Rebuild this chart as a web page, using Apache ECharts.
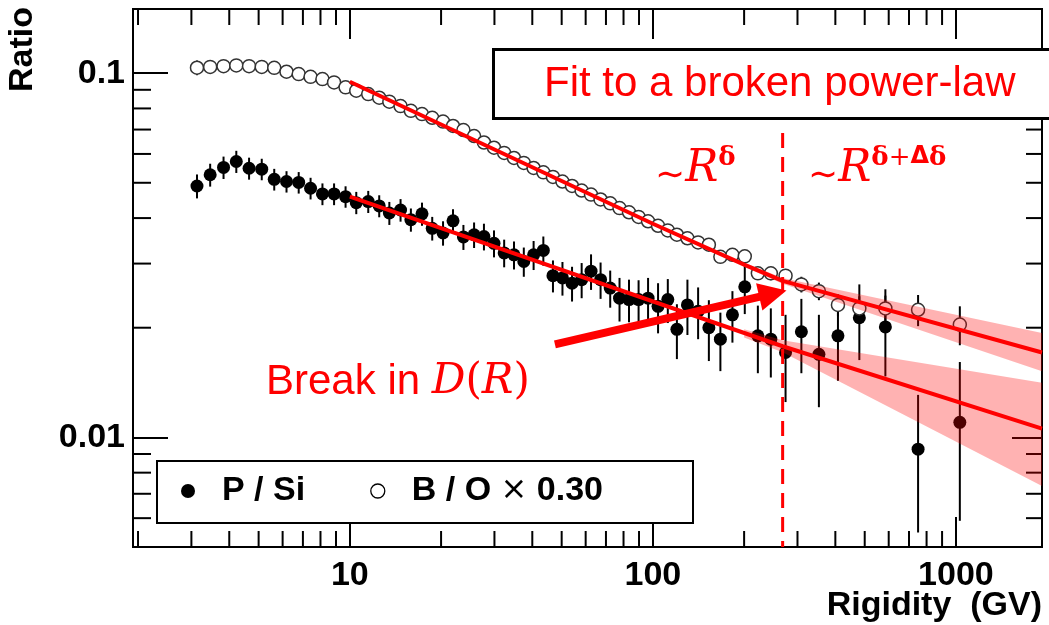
<!DOCTYPE html>
<html>
<head>
<meta charset="utf-8">
<title>P/Si and B/O rigidity dependence</title>
<script src="https://cdn.jsdelivr.net/npm/echarts@6/dist/echarts.min.js"></script>
<style>
  html, body { margin: 0; padding: 0; background: #fff; }
  #chart { width: 1049px; height: 625px; }
</style>
</head>
<body>
<div id="chart"></div>
<script>
// Rigidity bin centres (GV)
const rigidity = [3.13, 3.46, 3.83, 4.22, 4.65, 5.12, 5.63, 6.18, 6.78, 7.42, 8.12, 8.87, 9.68,
  10.5, 11.5, 12.5, 13.5, 14.7, 15.9, 17.3, 18.7, 20.3, 21.9, 23.7, 25.7, 27.7, 29.9, 32.3, 34.8,
  37.5, 40.4, 43.5, 46.8, 50.3, 54.1, 58.2, 62.5, 67.2, 72.3, 77.6, 83.4, 89.7, 96.4, 104, 112,
  120, 130, 141, 153, 167, 183, 201, 222, 245, 274, 309, 353, 408, 480, 585, 750, 1030];

// P/Si flux ratio and its uncertainty
const pSi = [0.0490, 0.0526, 0.0551, 0.0572, 0.0548, 0.0545, 0.0511, 0.0504, 0.0501, 0.0483,
  0.0466, 0.0466, 0.0458, 0.0441, 0.0444, 0.0432, 0.0413, 0.0421, 0.0396, 0.0411, 0.0375, 0.0364,
  0.0393, 0.0355, 0.0360, 0.0356, 0.0341, 0.0321, 0.0317, 0.0304, 0.0317, 0.0326, 0.0278, 0.0274,
  0.0265, 0.0271, 0.0286, 0.0271, 0.0257, 0.0241, 0.0239, 0.0239, 0.0241, 0.0229, 0.0239, 0.0198,
  0.0231, 0.0222, 0.0200, 0.0186, 0.0217, 0.0259, 0.0190, 0.0186, 0.0171, 0.0195, 0.0169, 0.0190,
  0.0213, 0.0201, 0.00928, 0.0110];
const pSiErr = [0.0037, 0.0038, 0.0039, 0.0040, 0.0038, 0.0037, 0.0035, 0.0034, 0.0034, 0.0033,
  0.0032, 0.0032, 0.0031, 0.0031, 0.0031, 0.0030, 0.0030, 0.0030, 0.0029, 0.0030, 0.0028, 0.0028,
  0.0030, 0.0028, 0.0029, 0.0030, 0.0029, 0.0028, 0.0028, 0.0028, 0.0029, 0.0030, 0.0028, 0.0029,
  0.0029, 0.0030, 0.0032, 0.0031, 0.0030, 0.0033, 0.0032, 0.0031, 0.0033, 0.0036, 0.0033, 0.0034,
  0.0040, 0.0036, 0.0038, 0.0034, 0.0035, 0.0041, 0.0040, 0.0040, 0.0046, 0.0045, 0.0048, 0.0047,
  0.0050, 0.0054, 0.0038, 0.0051];

// B/O flux ratio (scaled by 0.30) and its uncertainty
const bO = [0.1035, 0.1040, 0.1045, 0.1050, 0.1045, 0.1040, 0.1034, 0.1009, 0.0994, 0.0977,
  0.0963, 0.0943, 0.0914, 0.0895, 0.0876, 0.0856, 0.0835, 0.0812, 0.0788, 0.0772, 0.0754, 0.0736,
  0.0716, 0.0698, 0.0672, 0.0645, 0.0624, 0.0604, 0.0585, 0.0567, 0.0549, 0.0534, 0.0519, 0.0504,
  0.0490, 0.0476, 0.0464, 0.0450, 0.0439, 0.0426, 0.0415, 0.0403, 0.0392, 0.0381, 0.0370, 0.0360,
  0.0352, 0.0343, 0.0338, 0.0313, 0.0317, 0.0314, 0.0282, 0.0282, 0.0278, 0.0263, 0.0252, 0.0231,
  0.0226, 0.0226, 0.0224, 0.0204];
const bOErr = [0.0048, 0.0045, 0.0040, 0.0030, 0.0028, 0.0026, 0.0024, 0.0022, 0.0020, 0.0018,
  0.0016, 0.0015, 0.0014, 0.0013, 0.0012, 0.0012, 0.0011, 0.0011, 0.0010, 0.0010, 0.0010, 0.0009,
  0.0009, 0.0009, 0.0009, 0.0008, 0.0008, 0.0008, 0.0008, 0.0008, 0.0008, 0.0008, 0.0008, 0.0008,
  0.0008, 0.0008, 0.0008, 0.0008, 0.0008, 0.0008, 0.0008, 0.0008, 0.0008, 0.0008, 0.0008, 0.0008,
  0.0009, 0.0009, 0.0009, 0.0010, 0.0010, 0.0011, 0.0011, 0.0012, 0.0012, 0.0013, 0.0014, 0.0016,
  0.0018, 0.0019, 0.0022, 0.0025];

// Broken power-law fits
const fitBOR = [10, 100, 200, 268, 1923];
const fitBOV = [0.0947, 0.0386, 0.0298, 0.0269, 0.0171];
const fitPSiR = [10, 268, 1923];
const fitPSiV = [0.0458, 0.01779, 0.01057];

// Fit uncertainty bands
const bandR = [200, 268, 1923];
const bandBOLow = [0.0294, 0.0264, 0.0152];
const bandBOHigh = [0.0302, 0.0274, 0.01935];
const bandPSiLow = [0.0188, 0.01712, 0.00735];
const bandPSiHigh = [0.0198, 0.01848, 0.01413];

// Break rigidity marker and annotation arrow
const breakR = [268];
const breakSpan = [0.0685, 0.005];
const arrowFrom = [47.5, 0.0180];
const arrowTo = [276, 0.0253];

// Axis ranges and minor tick positions
const xRange = [1.925, 1923];
const yRange = [0.005, 0.15];
const xMinorTicks = [2, 3, 4, 5, 6, 7, 8, 9, 20, 30, 40, 50, 60, 70, 80, 90, 200, 300, 400, 500, 600, 700, 800, 900];
const yMinorTicks = [0.006, 0.007, 0.008, 0.009, 0.02, 0.03, 0.04, 0.05, 0.06, 0.07, 0.08, 0.09];

const RED = '#ff0000';
const BOLD = 'Liberation Sans';
const fmt = v => String(+(+v).toPrecision(6));

const chart = echarts.init(document.getElementById('chart'), null, { renderer: 'canvas' });

function errorBars(name, values, errs) {
  return {
    type: 'custom', name, z: 2, silent: true, clip: true,
    data: rigidity.map((r, i) => [r, values[i] - errs[i], values[i] + errs[i]]),
    encode: { x: 0, y: [1, 2] },
    renderItem(params, api) {
      const lo = api.coord([api.value(0), api.value(1)]);
      const hi = api.coord([api.value(0), api.value(2)]);
      return { type: 'line', shape: { x1: lo[0], y1: lo[1], x2: hi[0], y2: hi[1] },
        style: { stroke: '#000', lineWidth: 2 } };
    }
  };
}

function band(name, low, high) {
  return {
    type: 'custom', name, z: 4, silent: true,
    data: [[bandR[0], low[0]]],
    encode: { x: 0, y: 1 },
    renderItem(params, api) {
      const pts = [];
      for (let i = 0; i < bandR.length; i++) pts.push(api.coord([bandR[i], high[i]]));
      for (let i = bandR.length - 1; i >= 0; i--) pts.push(api.coord([bandR[i], low[i]]));
      return { type: 'polygon', shape: { points: pts }, style: { fill: 'rgba(255,0,0,0.3)' } };
    }
  };
}

function fitLine(name, rs, vs) {
  return {
    type: 'line', name, z: 5, silent: true, showSymbol: false, symbol: 'none',
    data: rs.map((r, i) => [r, vs[i]]),
    lineStyle: { color: RED, width: 4 }
  };
}

// rich-text styles shared by the two power-law annotations
const powerRich = {
  t: { fontFamily: 'DejaVu Sans', fontSize: 36, fill: RED, lineHeight: 44, verticalAlign: 'bottom' },
  r: { fontFamily: 'DejaVu Serif', fontStyle: 'italic', fontSize: 44, fill: RED, lineHeight: 50 },
  s: { fontFamily: 'DejaVu Serif', fontWeight: 'bold', fontSize: 26, fill: RED, lineHeight: 28, verticalAlign: 'top' },
  p: { fontFamily: 'DejaVu Serif', fontSize: 26, fill: RED, lineHeight: 28, verticalAlign: 'top' },
  d: { fontFamily: 'DejaVu Sans', fontWeight: 'bold', fontSize: 24, fill: RED, lineHeight: 28, verticalAlign: 'top' }
};

const option = {
  animation: false,
  backgroundColor: '#fff',
  title: {
    text: 'Fit to a broken power-law',
    left: 493, top: 49,
    padding: [12, 80, 12, 51],
    borderColor: '#000', borderWidth: 3, backgroundColor: '#fff',
    textStyle: { color: RED, fontSize: 42, fontWeight: 'normal', fontFamily: 'Liberation Sans', lineHeight: 46 },
    z: 10
  },
  grid: { left: 133, right: 7, top: 9, bottom: 78, show: true, borderColor: '#000', borderWidth: 2,
    containLabel: false, outerBoundsMode: 'none' },
  xAxis: [{
    type: 'log', logBase: 10, min: xRange[0], max: xRange[1],
    axisLine: { show: true, lineStyle: { color: '#000', width: 2 } },
    axisTick: { show: true, inside: true, length: 30, lineStyle: { color: '#000', width: 2 } },
    axisLabel: { show: true, margin: 12, formatter: fmt, showMinLabel: false, showMaxLabel: false,
      fontSize: 34, fontWeight: 'bold', fontFamily: BOLD, color: '#000' },
    splitLine: { show: false }, minorTick: { show: false }
  }, {
    type: 'log', logBase: 10, min: xRange[0], max: xRange[1], position: 'top',
    axisLine: { show: true, lineStyle: { color: '#000', width: 2 } },
    axisTick: { show: true, inside: true, length: 30, lineStyle: { color: '#000', width: 2 } },
    axisLabel: { show: false }, splitLine: { show: false }
  }],
  yAxis: [{
    type: 'log', logBase: 10, min: yRange[0], max: yRange[1],
    name: 'Ratio', nameLocation: 'end', nameGap: 2, nameRotate: 90,
    nameTextStyle: { align: 'right', verticalAlign: 'bottom', padding: [0, 0, 93, 0],
      fontSize: 34, fontWeight: 'bold', fontFamily: BOLD, color: '#000' },
    axisLine: { show: true, lineStyle: { color: '#000', width: 2 } },
    axisTick: { show: true, inside: true, length: 35, lineStyle: { color: '#000', width: 2 } },
    axisLabel: { show: true, margin: 8, formatter: fmt, showMinLabel: false, showMaxLabel: false,
      fontSize: 34, fontWeight: 'bold', fontFamily: BOLD, color: '#000' },
    splitLine: { show: false }
  }, {
    type: 'log', logBase: 10, min: yRange[0], max: yRange[1], position: 'right',
    axisLine: { show: true, lineStyle: { color: '#000', width: 2 } },
    axisTick: { show: true, inside: true, length: 30, lineStyle: { color: '#000', width: 2 } },
    axisLabel: { show: false }, splitLine: { show: false }
  }],
  legend: {
    left: 156, top: 460, orient: 'horizontal',
    padding: [14, 0, 14, 25],
    itemWidth: 14, itemHeight: 14, itemGap: 65,
    selectedMode: false, z: 12,
    data: [
      { name: 'P / Si', icon: 'circle', itemStyle: { color: '#000', borderWidth: 0, opacity: 1 } },
      { name: 'B / O × 0.30', icon: 'circle', itemStyle: { color: '#fff', borderColor: '#000', borderWidth: 1.3, opacity: 1 } }
    ],
    formatter: name => name === 'P / Si' ? '{b|P / Si}' : '{b|B / O }{x|×}{b| 0.30}',
    textStyle: {
      padding: [0, 0, 0, 22],
      rich: {
        b: { fontSize: 34, fontWeight: 'bold', fontFamily: BOLD, color: '#000', lineHeight: 34 },
        x: { fontSize: 32, fontWeight: 'normal', fontFamily: 'DejaVu Sans', color: '#000', lineHeight: 34 }
      }
    }
  },
  graphic: [
    { type: 'rect', z: 11, left: 156, top: 460, shape: { width: 536, height: 62 },
      style: { fill: '#fff', stroke: '#000', lineWidth: 2 } },
    // x axis title
    { type: 'text', z: 20, x: 1042, y: 606,
      style: { text: 'Rigidity  (GV)', fill: '#000', align: 'right', verticalAlign: 'middle',
        font: 'bold 34px "Liberation Sans"' } },
    { type: 'text', z: 20, x: 655, y: 145,
      style: { text: '{t|∼}{r|R}{s|δ}', fill: RED, rich: powerRich } },
    { type: 'text', z: 20, x: 808, y: 145,
      style: { text: '{t|∼}{r|R}{s|δ}{p|+}{d|Δ}{s|δ}', fill: RED, rich: powerRich } },
    { type: 'text', z: 20, x: 266, y: 357,
      style: {
        text: '{a|Break in }{m|D}{p|(}{m|R}{p|)}', fill: RED,
        rich: {
          a: { fontFamily: 'Liberation Sans', fontSize: 42, fill: RED, lineHeight: 50 },
          m: { fontFamily: 'DejaVu Serif', fontStyle: 'italic', fontSize: 42, fill: RED, lineHeight: 50 },
          p: { fontFamily: 'DejaVu Serif', fontSize: 42, fill: RED, lineHeight: 50 }
        }
      } }
  ],
  series: [
    // minor ticks on the bottom and top edges
    {
      type: 'custom', name: 'x minor ticks', z: 1, silent: true, clip: false,
      data: xMinorTicks.map(v => [v, yRange[0]]),
      encode: { x: 0, y: 1 },
      renderItem(params, api) {
        const b = api.coord([api.value(0), yRange[0]]);
        const t = api.coord([api.value(0), yRange[1]]);
        const st = { stroke: '#000', lineWidth: 2 };
        return { type: 'group', children: [
          { type: 'line', shape: { x1: b[0], y1: b[1], x2: b[0], y2: b[1] - 16 }, style: st },
          { type: 'line', shape: { x1: t[0], y1: t[1], x2: t[0], y2: t[1] + 16 }, style: st }
        ] };
      }
    },
    // minor ticks on the left and right edges
    {
      type: 'custom', name: 'y minor ticks', z: 1, silent: true, clip: false,
      data: yMinorTicks.map(v => [xRange[0], v]),
      encode: { x: 0, y: 1 },
      renderItem(params, api) {
        const l = api.coord([xRange[0], api.value(1)]);
        const r = api.coord([xRange[1], api.value(1)]);
        const st = { stroke: '#000', lineWidth: 2 };
        return { type: 'group', children: [
          { type: 'line', shape: { x1: l[0], y1: l[1], x2: l[0] + 18, y2: l[1] }, style: st },
          { type: 'line', shape: { x1: r[0], y1: r[1], x2: r[0] - 16, y2: r[1] }, style: st }
        ] };
      }
    },
    errorBars('P / Si errors', pSi, pSiErr),
    errorBars('B / O errors', bO, bOErr),
    {
      type: 'scatter', name: 'P / Si', z: 3, silent: true,
      data: rigidity.map((r, i) => [r, pSi[i]]),
      symbol: 'circle', symbolSize: 13,
      itemStyle: { color: '#000', borderWidth: 0, opacity: 1 }
    },
    {
      type: 'scatter', name: 'B / O × 0.30', z: 3, silent: true,
      data: rigidity.map((r, i) => [r, bO[i]]),
      symbol: 'circle', symbolSize: 13,
      itemStyle: { color: '#fff', borderColor: '#333', borderWidth: 1.5, opacity: 1 }
    },
    band('B / O band', bandBOLow, bandBOHigh),
    band('P / Si band', bandPSiLow, bandPSiHigh),
    fitLine('B / O fit', fitBOR, fitBOV),
    fitLine('P / Si fit', fitPSiR, fitPSiV),
    // break position
    {
      type: 'custom', name: 'break', z: 6, silent: true,
      data: [[breakR[0], breakSpan[0], breakSpan[1]]],
      encode: { x: 0, y: [1, 2] },
      renderItem(params, api) {
        const a = api.coord([api.value(0), api.value(1)]);
        const b = api.coord([api.value(0), api.value(2)]);
        return { type: 'line', shape: { x1: a[0], y1: a[1], x2: b[0], y2: b[1] },
          style: { stroke: RED, lineWidth: 3, lineDash: [15, 9] } };
      }
    },
    // arrow pointing at the break
    {
      type: 'custom', name: 'arrow', z: 7, silent: true, clip: false,
      data: [[arrowFrom[0], arrowFrom[1], arrowTo[0], arrowTo[1]]],
      encode: { x: [0, 2], y: [1, 3] },
      renderItem(params, api) {
        const p0 = api.coord([api.value(0), api.value(1)]);
        const p1 = api.coord([api.value(2), api.value(3)]);
        const dx = p1[0] - p0[0], dy = p1[1] - p0[1];
        const len = Math.hypot(dx, dy), ux = dx / len, uy = dy / len;
        const headL = 28, headW = 14;
        const bx = p1[0] - ux * headL, by = p1[1] - uy * headL;
        return { type: 'group', children: [
          { type: 'line', shape: { x1: p0[0], y1: p0[1], x2: bx + ux * 2, y2: by + uy * 2 },
            style: { stroke: RED, lineWidth: 8 } },
          { type: 'polygon', shape: { points: [
            [p1[0], p1[1]], [bx - uy * headW, by + ux * headW], [bx + uy * headW, by - ux * headW]
          ] }, style: { fill: RED } }
        ] };
      }
    }
  ]
};

chart.setOption(option);
</script>
</body>
</html>
